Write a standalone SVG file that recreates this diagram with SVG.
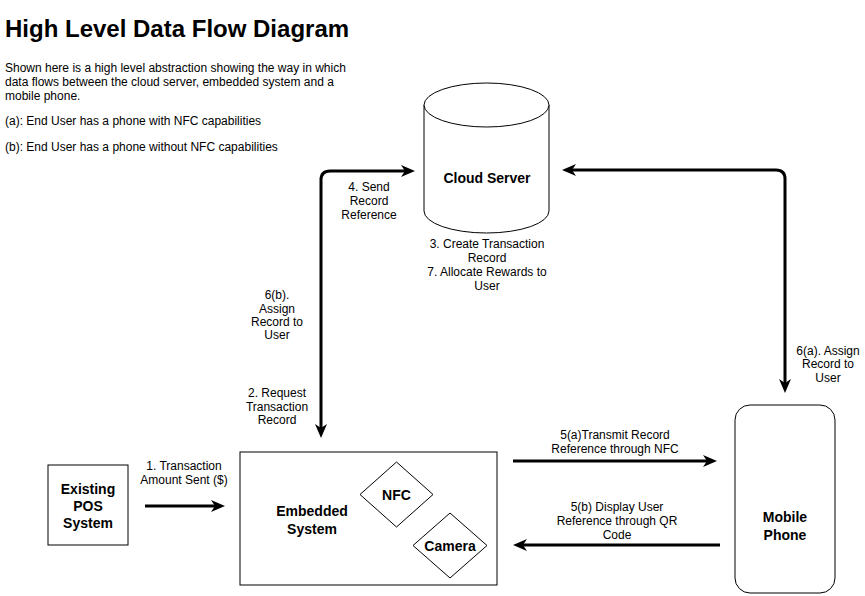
<svg xmlns="http://www.w3.org/2000/svg" width="865" height="596" viewBox="0 0 865 596">
<style>
text{font-family:"Liberation Sans",Arial,Helvetica,sans-serif;fill:#000}
.lbl{font-size:12px;text-anchor:middle}
.node{font-size:14px;font-weight:bold;text-anchor:middle}
.shape{fill:#fff;stroke:#000;stroke-width:1}
.conn{fill:none;stroke:#000;stroke-width:3}
</style>
<defs>
<marker id="arr" markerUnits="userSpaceOnUse" markerWidth="16" markerHeight="14" viewBox="0 0 16 14" refX="6" refY="6" orient="auto-start-reverse">
<path d="M0,0 L14,6 L0,12 L4,6 Z" fill="#000"/>
</marker>
</defs>
<rect width="865" height="596" fill="#fff"/>
<g id="title">
<text x="5" y="37" style="font-size:24px;font-weight:bold">High Level Data Flow Diagram</text>
<text x="5" y="72" style="font-size:12px">Shown here is a high level abstraction showing the way in which</text>
<text x="5" y="86" style="font-size:12px">data flows between the cloud server, embedded system and a</text>
<text x="5" y="100" style="font-size:12px">mobile phone.</text>
<text x="5" y="125" style="font-size:12px">(a): End User has a phone with NFC capabilities</text>
<text x="5" y="151" style="font-size:12px">(b): End User has a phone without NFC capabilities</text>
</g>
<g id="cloud-server">
<path class="shape" d="M424,105 A62.5,22 0 0 1 549,105 L549,211 A62.5,22 0 0 1 424,211 Z"/>
<path class="shape" fill="none" d="M424,105 A62.5,22 0 0 0 549,105"/>
<text class="node" x="487" y="183">Cloud Server</text>
<text class="lbl" x="487" y="248">3. Create Transaction</text>
<text class="lbl" x="487" y="262">Record</text>
<text class="lbl" x="487" y="276">7. Allocate Rewards to</text>
<text class="lbl" x="487" y="290">User</text>
</g>
<g id="pos-system">
<rect class="shape" x="48" y="465" width="80" height="80"/>
<text class="node" x="88" y="494">Existing</text>
<text class="node" x="88" y="511">POS</text>
<text class="node" x="88" y="528">System</text>
</g>
<g id="embedded-system">
<rect class="shape" x="240" y="452" width="257" height="133"/>
<text class="node" x="312" y="516">Embedded</text>
<text class="node" x="312" y="534">System</text>
</g>
<g id="nfc">
<path class="shape" d="M396.5,462 L433,494.5 L396.5,527 L360,494.5 Z"/>
<text class="node" x="396.5" y="499.5">NFC</text>
</g>
<g id="camera">
<path class="shape" d="M450,513 L487,545.5 L450,578 L413,545.5 Z"/>
<text class="node" x="450" y="550.5">Camera</text>
</g>
<g id="mobile-phone">
<rect class="shape" x="735" y="405" width="100" height="188" rx="15" ry="15"/>
<text class="node" x="785" y="522">Mobile</text>
<text class="node" x="785" y="540">Phone</text>
</g>
<g id="connectors">
<path class="conn" marker-start="url(#arr)" marker-end="url(#arr)" d="M321,430 L321,180 Q321,171 330,171 L407,171"/>
<path class="conn" marker-start="url(#arr)" marker-end="url(#arr)" d="M570,170 L776,170 Q785,170 785,179 L785,385"/>
<path class="conn" marker-end="url(#arr)" d="M145,506 L217,506"/>
<path class="conn" marker-end="url(#arr)" d="M513,461 L709,461"/>
<path class="conn" marker-end="url(#arr)" d="M720,545 L521,545"/>
<text class="lbl" x="369" y="191">4. Send</text>
<text class="lbl" x="369" y="205">Record</text>
<text class="lbl" x="369" y="219">Reference</text>
<text class="lbl" x="277" y="299">6(b).</text>
<text class="lbl" x="277" y="313">Assign</text>
<text class="lbl" x="277" y="326">Record to</text>
<text class="lbl" x="277" y="339">User</text>
<text class="lbl" x="277" y="397">2. Request</text>
<text class="lbl" x="277" y="411">Transaction</text>
<text class="lbl" x="277" y="424">Record</text>
<text class="lbl" x="828" y="355">6(a). Assign</text>
<text class="lbl" x="828" y="368">Record to</text>
<text class="lbl" x="828" y="382">User</text>
<text class="lbl" x="184" y="470">1. Transaction</text>
<text class="lbl" x="184" y="484">Amount Sent ($)</text>
<text class="lbl" x="615" y="439">5(a)Transmit Record</text>
<text class="lbl" x="615" y="453">Reference through NFC</text>
<text class="lbl" x="617" y="511">5(b) Display User</text>
<text class="lbl" x="617" y="525">Reference through QR</text>
<text class="lbl" x="617" y="539">Code</text>
</g>
</svg>
